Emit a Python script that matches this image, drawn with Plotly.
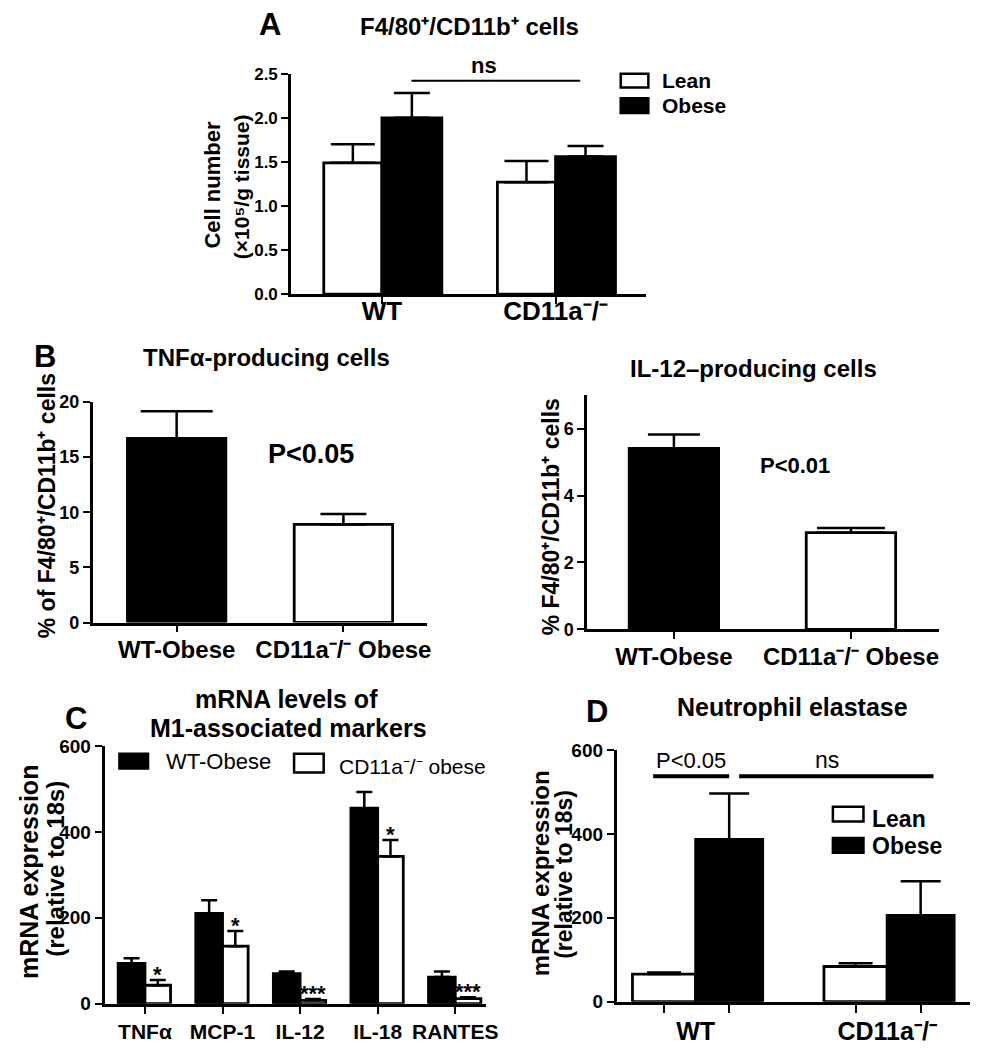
import plotly.graph_objects as go

W, H = 987, 1050
F = "Liberation Sans"

# ---------------- data ----------------
# Panel A
a_groups = ["WT", "CD11a-/-"]
a_group_labels = ["WT", "CD11a⁻/⁻"]
a_lean = [1.49, 1.27]
a_lean_sem = [0.21, 0.24]
a_obese = [2.00, 1.56]
a_obese_sem = [0.28, 0.12]

# Panel B (left) TNFa-producing cells
b_groups = ["WT-Obese", "CD11a-/- Obese"]
b_group_labels = ["WT-Obese", "CD11a⁻/⁻ Obese"]
b1_values = [16.7, 8.9]
b1_sem = [2.45, 0.95]
# Panel B (right) IL-12-producing cells
b2_values = [5.41, 2.89]
b2_sem = [0.41, 0.14]

# Panel C
c_markers = ["TNFα", "MCP-1", "IL-12", "IL-18", "RANTES"]
c_wt = [94, 210, 70, 455, 62]
c_wt_sem = [12, 31, 5, 38, 13]
c_ko = [43, 134, 8, 343, 12]
c_ko_sem = [12, 35, 3, 38, 3]
c_stars = ["*", "*", "***", "*", "***"]

# Panel D
d_groups = ["WT", "CD11a–/–"]
d_group_labels = ["WT", "CD11a⁻/⁻"]
d_lean = [66, 84]
d_lean_sem = [4, 8]
d_obese = [387, 206]
d_obese_sem = [109, 81]

# ---------------- helpers ----------------
def px(x):
    return x / W

def py(y):
    return 1 - y / H

def dom_x(a, b):
    return [px(a), px(b)]

def dom_y(bottom, top):
    return [py(bottom), py(top)]

def err(sem, cap, thick=2.5):
    return dict(type="data", symmetric=False, array=sem, arrayminus=[0] * len(sem),
                color="black", thickness=thick, width=cap, visible=True)

fig = go.Figure()

def bar(x, y, sem, color, xa, ya, offset=None, width=None, cap=18, lw=2.8):
    fig.add_trace(go.Bar(
        x=x, y=y, xaxis=xa, yaxis=ya, offset=offset, width=width,
        marker=dict(color=color, line=dict(color="black", width=lw)),
        error_y=err(sem, cap), showlegend=False, hoverinfo="skip"))

# Panel A
bar(a_groups, a_lean, a_lean_sem, "white", "x", "y", offset=-0.335, width=0.335, cap=22)
bar(a_groups, a_obese, a_obese_sem, "black", "x", "y", offset=0.0, width=0.345, cap=18)

# Panel B left (one trace per group)
bar([b_groups[0]], [b1_values[0]], [b1_sem[0]], "black", "x2", "y2", width=0.59, cap=36)
bar([b_groups[1]], [b1_values[1]], [b1_sem[1]], "white", "x2", "y2", width=0.59, cap=23)
# Panel B right
bar([b_groups[0]], [b2_values[0]], [b2_sem[0]], "black", "x3", "y3", width=0.505, cap=26)
bar([b_groups[1]], [b2_values[1]], [b2_sem[1]], "white", "x3", "y3", width=0.505, cap=34)

# Panel C
bar(c_markers, c_wt, c_wt_sem, "black", "x4", "y4", offset=-0.345, width=0.345, cap=8)
bar(c_markers, c_ko, c_ko_sem, "white", "x4", "y4", offset=0.0, width=0.33, cap=8)

# Panel D
bar(d_groups, d_lean, d_lean_sem, "white", "x5", "y5", offset=-0.33, width=0.33, cap=17)
bar(d_groups, d_obese, d_obese_sem, "black", "x5", "y5", offset=0.0, width=0.35, cap=20)

# invisible trace to activate tick-only axis for panel D
fig.add_trace(go.Scatter(x=[0], y=[0], xaxis="x6", yaxis="y5", mode="markers",
                         marker=dict(opacity=0), showlegend=False, hoverinfo="skip"))

LINE = dict(showline=True, linecolor="black", linewidth=2.8, showgrid=False,
            zeroline=False, ticks="outside", tickcolor="black", tickwidth=2.4)

def yax(dom, rng, dtick, size, anchor, ticklen=7):
    d = dict(LINE)
    d.update(domain=dom, range=rng, dtick=dtick, tick0=0, anchor=anchor, ticklen=ticklen,
             tickfont=dict(family=F, size=size, color="black", weight="bold"))
    return d

def xax(dom, rng, anchor, tickvals, ticktext, size, ticklen=7, weight="bold", standoff=0):
    d = dict(LINE)
    d.update(domain=dom, range=rng, anchor=anchor, type="category",
             tickvals=tickvals, ticktext=ticktext, ticklen=ticklen,
             ticklabelstandoff=standoff,
             tickfont=dict(family=F, size=size, color="black", weight=weight))
    return d

layout = dict(
    width=W, height=H, margin=dict(l=0, r=0, t=0, b=0),
    paper_bgcolor="white", plot_bgcolor="white", barmode="overlay",
    showlegend=False, font=dict(family=F, color="black"),
)

layout["xaxis"] = xax(dom_x(295, 655), [-0.523, 1.523], "y", a_groups, a_group_labels, 26,
                      standoff=-15)
layout["yaxis"] = yax(dom_y(290, 65), [0, 2.5], 0.5, 17, "x")
layout["yaxis"]["tickformat"] = ".1f"

layout["xaxis2"] = xax(dom_x(94, 433), [-0.503, 1.503], "y2", b_groups, b_group_labels, 24,
                       standoff=-3)
layout["yaxis2"] = yax(dom_y(625, 400), [0, 20], 5, 18, "x2")

layout["xaxis3"] = xax(dom_x(595, 952), [-0.49, 1.50], "y3", b_groups, b_group_labels, 24,
                       standoff=-3)
layout["yaxis3"] = yax(dom_y(632, 393), [0, 7], 2, 18, "x3")

layout["xaxis4"] = xax(dom_x(106, 492), [-0.52, 4.39], "y4", c_markers, c_markers, 21)
layout["yaxis4"] = yax(dom_y(1014, 751), [0, 600], 200, 19, "x4")

layout["xaxis5"] = xax(dom_x(625, 983), [-0.412, 1.433], "y5", d_groups, d_group_labels, 25,
                       standoff=5)
layout["xaxis5"]["ticks"] = ""
layout["yaxis5"] = yax(dom_y(1012, 755), [0, 600], 200, 19, "x5")
d_tick_pos = [-0.165, 0.175, 0.835, 1.175]
layout["xaxis6"] = dict(overlaying="x5", anchor="y5", range=[-0.412, 1.433], type="linear",
                        tickvals=d_tick_pos, showticklabels=False, ticks="outside",
                        ticklen=10, tickwidth=2.4, tickcolor="black", showline=False,
                        showgrid=False, zeroline=False)

anns = []
def ann(x, y, text, size, bold=True, angle=0, xanchor="center", yanchor="middle"):
    anns.append(dict(x=px(x), y=py(y), xref="paper", yref="paper", text=text, showarrow=False,
                     textangle=angle, xanchor=xanchor, yanchor=yanchor,
                     font=dict(family=F, size=size, color="black",
                               weight="bold" if bold else "normal")))

# Panel letters and titles
ann(274, 15, "A", 31)
ann(476, 17, "F4/80⁺/CD11b⁺ cells", 24)
ann(46, 354, "B", 31)
ann(270, 355, "TNFα-producing cells", 24)
ann(764, 366, "IL-12–producing cells", 24)
ann(77, 723, "C", 31)
ann(290, 703, "mRNA levels of", 25)
ann(292, 733, "M1-associated markers", 25)
ann(605, 716, "D", 31)
ann(803, 711, "Neutrophil elastase", 25)

# Y-axis titles
ann(215, 178, "Cell number", 22, angle=-90)
ann(245, 180, "(×10⁵/g tissue)", 21, angle=-90)
ann(48, 506, "% of F4/80⁺/CD11b⁺ cells", 23, angle=-90)
ann(558, 517, "% F4/80⁺/CD11b⁺ cells", 23, angle=-90)
ann(30, 880, "mRNA expression", 25, angle=-90)
ann(56, 876, "(relative to 18s)", 24, angle=-90)
ann(548, 881, "mRNA expression", 24, angle=-90)
ann(572, 882, "(relative to 18s)", 23, angle=-90)

# Stats annotations
ann(490, 57, "ns", 22)
ann(315, 453, "P<0.05", 27)
ann(806, 465, "P<0.01", 22)
ann(700, 766, "P<0.05", 22, bold=False)
ann(838, 765, "ns", 23, bold=False)

# Legends (key boxes + text)
shapes = []
def box(x0, y0, x1, y1, fill):
    shapes.append(dict(type="rect", xref="paper", yref="paper", x0=px(x0), x1=px(x1),
                       y0=py(y1), y1=py(y0), fillcolor=fill,
                       line=dict(color="black", width=2.5)))

box(629, 65, 657, 79, "white")
box(629, 90, 657, 105, "black")
ann(669, 72, "Lean", 21, xanchor="left")
ann(669, 97, "Obese", 21, xanchor="left")

box(121, 759, 150, 774, "black")
box(298, 759, 328, 778, "white")
ann(166, 767, "WT-Obese", 22, bold=False, xanchor="left")
ann(342, 772, "CD11a⁻/⁻ obese", 21, bold=False, xanchor="left")

box(844, 813, 875, 828, "white")
box(844, 845, 875, 860, "black")
ann(882, 825, "Lean", 23, xanchor="left")
ann(882, 853, "Obese", 23, xanchor="left")

# Significance lines (data coords)
shapes.append(dict(type="line", xref="x", yref="y", x0=0.17, x1=1.142, y0=2.42, y1=2.42,
                   line=dict(color="black", width=2)))
shapes.append(dict(type="line", xref="x5", yref="y5", x0=-0.222, x1=0.175, y0=537, y1=537,
                   line=dict(color="black", width=4)))
shapes.append(dict(type="line", xref="x5", yref="y5", x0=0.227, x1=1.242, y0=537, y1=537,
                   line=dict(color="black", width=4)))

# Stars above panel C white bars (data coords)
for i, s in enumerate(c_stars):
    anns.append(dict(x=i + 0.165, y=c_ko[i] + c_ko_sem[i], xref="x4", yref="y4", text=s,
                     showarrow=False, xanchor="center", yanchor="bottom", yshift=-9,
                     font=dict(family=F, size=22, color="black", weight="bold")))

layout["annotations"] = anns
layout["shapes"] = shapes
fig.update_layout(**layout)
fig.write_html("out.html", config={"displayModeBar": False},
               post_script="document.body.style.margin='0';")
